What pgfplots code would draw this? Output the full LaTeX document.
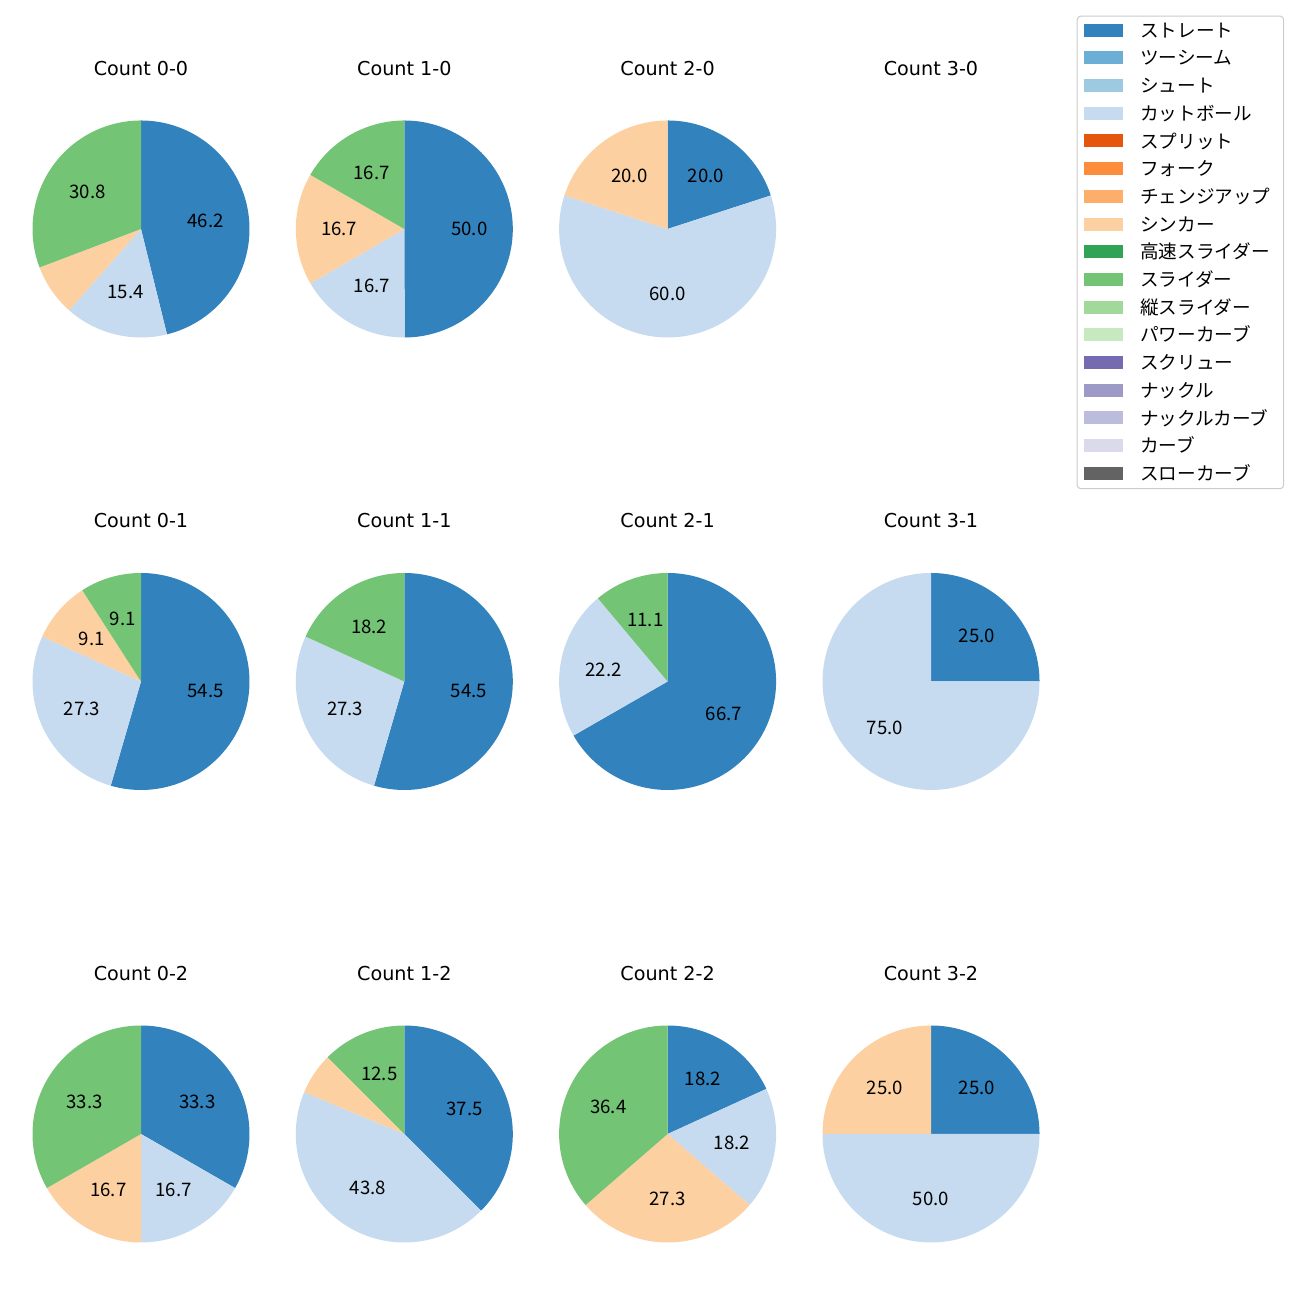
\documentclass[border=0pt]{standalone}
\usepackage{fontspec}
\setmainfont{Noto Sans CJK JP}
\newfontfamily\titlefont{DejaVu Sans}
\usepackage{pgfplots}
\usepackage{pgfplotstable}
\pgfplotsset{compat=1.18}

\definecolor{cStraight}{HTML}{3182BD}
\definecolor{cTwoSeam}{HTML}{6BAED6}
\definecolor{cShoot}{HTML}{9ECAE1}
\definecolor{cCut}{HTML}{C6DBEF}
\definecolor{cSplit}{HTML}{E6550D}
\definecolor{cFork}{HTML}{FD8D3C}
\definecolor{cChange}{HTML}{FDAE6B}
\definecolor{cSinker}{HTML}{FDD0A2}
\definecolor{cFastSl}{HTML}{31A354}
\definecolor{cSlider}{HTML}{74C476}
\definecolor{cVertSl}{HTML}{A1D99B}
\definecolor{cPower}{HTML}{C7E9C0}
\definecolor{cScrew}{HTML}{756BB1}
\definecolor{cKnuckle}{HTML}{9E9AC8}
\definecolor{cKnCurve}{HTML}{BCBDDC}
\definecolor{cCurve}{HTML}{DADAEB}
\definecolor{cSlowCurve}{HTML}{636363}
\definecolor{lgray}{HTML}{CCCCCC}

% Count 0-0
\pgfplotstableread{
val col
46.2 cStraight
15.4 cCut
7.7 cSinker
30.8 cSlider
}\tA
% Count 1-0
\pgfplotstableread{
val col
50.0 cStraight
16.7 cCut
16.7 cSinker
16.7 cSlider
}\tB
% Count 2-0
\pgfplotstableread{
val col
20.0 cStraight
60.0 cCut
20.0 cSinker
}\tC
% Count 0-1
\pgfplotstableread{
val col
54.5 cStraight
27.3 cCut
9.1 cSinker
9.1 cSlider
}\tE
% Count 1-1
\pgfplotstableread{
val col
54.5 cStraight
27.3 cCut
18.2 cSlider
}\tF
% Count 2-1
\pgfplotstableread{
val col
66.7 cStraight
22.2 cCut
11.1 cSlider
}\tG
% Count 3-1
\pgfplotstableread{
val col
25.0 cStraight
75.0 cCut
}\tH
% Count 0-2
\pgfplotstableread{
val col
33.3 cStraight
16.7 cCut
16.7 cSinker
33.3 cSlider
}\tI
% Count 1-2
\pgfplotstableread{
val col
37.5 cStraight
43.8 cCut
6.2 cSinker
12.5 cSlider
}\tJ
% Count 2-2
\pgfplotstableread{
val col
18.2 cStraight
18.2 cCut
27.3 cSinker
36.4 cSlider
}\tK
% Count 3-2
\pgfplotstableread{
val col
25.0 cStraight
50.0 cCut
25.0 cSinker
}\tL

\newcommand\drawpie[1]{%
  \pgfplotstablegetrowsof{#1}%
  \pgfmathtruncatemacro\pielast{\pgfplotsretval-1}%
  \def\pietotal{0}%
  \pgfplotsforeachungrouped \i in {0,...,\pielast}{%
    \pgfplotstablegetelem{\i}{val}\of#1%
    \pgfmathsetmacro\pietotal{\pietotal+\pgfplotsretval}%
  }%
  \pgfmathsetmacro\piescale{360/\pietotal}%
  \def\piecum{0}%
  \pgfplotsforeachungrouped \i in {0,...,\pielast}{%
    \pgfplotstablegetelem{\i}{val}\of#1\let\pieval\pgfplotsretval
    \pgfplotstablegetelem{\i}{col}\of#1\let\piecol\pgfplotsretval
    \pgfmathsetmacro\piea{90-\piescale*\piecum}%
    \pgfmathsetmacro\pieb{90-\piescale*(\piecum+\pieval)}%
    \pgfmathsetmacro\piem{(\piea+\pieb)/2}%
    \pgfmathsetmacro\piex{0.6*cos(\piem)}%
    \pgfmathsetmacro\piey{0.6*sin(\piem)}%
    \edef\temp{\noexpand\addplot[fill=\piecol, draw=none, domain=\pieb:\piea, samples=120, variable=\noexpand\t] ({cos(\noexpand\t)},{sin(\noexpand\t)}) -- (axis cs:0,0) -- cycle;}%
    \temp
    \pgfmathtruncatemacro\pieshow{\pieval>=8}%
    \ifnum\pieshow=1
      \edef\temp{\noexpand\node[anchor=center, inner sep=0pt] at (axis cs:\piex,\piey) {\noexpand\pgfmathprintnumber[fixed,fixed zerofill,precision=1,assume math mode=true]{\pieval}};}%
      \temp
    \fi
    \pgfmathsetmacro\piecum{\piecum+\pieval}%
  }%
}

\pgfplotsset{
  pieaxis/.style={
    scale only axis, width=156.24pt, height=156.24pt,
    xmin=-1, xmax=1, ymin=-1, ymax=1,
    hide axis, clip=false, anchor=center,
    every axis title shift=0pt,
    title style={at={(0.5,1.2396)}, anchor=center, inner sep=0pt,
      font=\titlefont\fontsize{13.8pt}{16pt}\selectfont},
  },
}

\begin{document}
\fontsize{13.4pt}{16pt}\selectfont
\begin{tikzpicture}[font=\fontsize{13.4pt}{16pt}\selectfont]
\path[use as bounding box] (0,0) rectangle (936pt,936pt);

% Row 1
\begin{axis}[pieaxis, at={(101.52pt,771.12pt)}, title={Count 0-0}]
\drawpie{\tA}
\end{axis}
\begin{axis}[pieaxis, at={(291.10pt,771.12pt)}, title={Count 1-0}]
\drawpie{\tB}
\end{axis}
\begin{axis}[pieaxis, at={(480.67pt,771.12pt)}, title={Count 2-0}]
\drawpie{\tC}
\end{axis}
\begin{axis}[pieaxis, at={(670.32pt,771.12pt)}, title={Count 3-0}]
\end{axis}

% Row 2
\begin{axis}[pieaxis, at={(101.52pt,445.32pt)}, title={Count 0-1}]
\drawpie{\tE}
\end{axis}
\begin{axis}[pieaxis, at={(291.10pt,445.32pt)}, title={Count 1-1}]
\drawpie{\tF}
\end{axis}
\begin{axis}[pieaxis, at={(480.67pt,445.32pt)}, title={Count 2-1}]
\drawpie{\tG}
\end{axis}
\begin{axis}[pieaxis, at={(670.32pt,445.32pt)}, title={Count 3-1}]
\drawpie{\tH}
\end{axis}

% Row 3
\begin{axis}[pieaxis, at={(101.52pt,119.52pt)}, title={Count 0-2}]
\drawpie{\tI}
\end{axis}
\begin{axis}[pieaxis, at={(291.10pt,119.52pt)}, title={Count 1-2}]
\drawpie{\tJ}
\end{axis}
\begin{axis}[pieaxis, at={(480.67pt,119.52pt)}, title={Count 2-2}]
\drawpie{\tK}
\end{axis}
\begin{axis}[pieaxis, at={(670.32pt,119.52pt)}, title={Count 3-2}]
\drawpie{\tL}
\end{axis}

% Legend
\begin{axis}[at={(775.2pt,924.7pt)}, anchor=north west,
  scale only axis, width=148.32pt, height=343.2pt, hide axis,
  xmin=0, xmax=1, ymin=0, ymax=1,
  legend image code/.code={\fill[sharp corners, #1] (0pt,0.42pt) rectangle (28.08pt,9.78pt);},
  legend style={at={(0,1)}, anchor=north west, draw=lgray, line width=0.72pt,
    rounded corners=2.5pt, fill=white, inner xsep=5.26pt, inner ysep=1.9pt,
    row sep=2.63pt, column sep=10.1pt,
    font=\fontsize{13.4pt}{16pt}\selectfont,
    cells={anchor=base west, inner sep=0pt, text height=11.3pt, text depth=8.67pt}},
]
\addlegendimage{fill=cStraight, draw=none}\addlegendentry{ストレート}
\addlegendimage{fill=cTwoSeam, draw=none}\addlegendentry{ツーシーム}
\addlegendimage{fill=cShoot, draw=none}\addlegendentry{シュート}
\addlegendimage{fill=cCut, draw=none}\addlegendentry{カットボール}
\addlegendimage{fill=cSplit, draw=none}\addlegendentry{スプリット}
\addlegendimage{fill=cFork, draw=none}\addlegendentry{フォーク}
\addlegendimage{fill=cChange, draw=none}\addlegendentry{チェンジアップ\hspace*{2.2pt}}
\addlegendimage{fill=cSinker, draw=none}\addlegendentry{シンカー}
\addlegendimage{fill=cFastSl, draw=none}\addlegendentry{高速スライダー}
\addlegendimage{fill=cSlider, draw=none}\addlegendentry{スライダー}
\addlegendimage{fill=cVertSl, draw=none}\addlegendentry{縦スライダー}
\addlegendimage{fill=cPower, draw=none}\addlegendentry{パワーカーブ}
\addlegendimage{fill=cScrew, draw=none}\addlegendentry{スクリュー}
\addlegendimage{fill=cKnuckle, draw=none}\addlegendentry{ナックル}
\addlegendimage{fill=cKnCurve, draw=none}\addlegendentry{ナックルカーブ}
\addlegendimage{fill=cCurve, draw=none}\addlegendentry{カーブ}
\addlegendimage{fill=cSlowCurve, draw=none}\addlegendentry{スローカーブ\rule[-12.3pt]{0pt}{0pt}}
\end{axis}
\end{tikzpicture}
\end{document}
